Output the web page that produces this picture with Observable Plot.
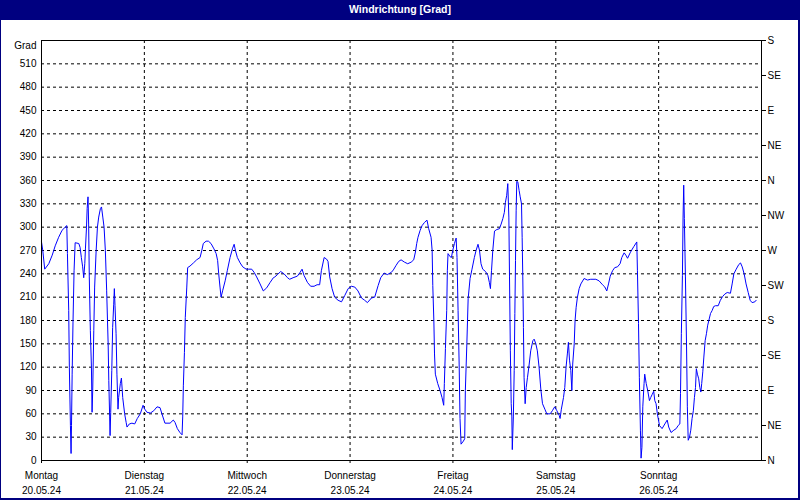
<!DOCTYPE html>
<html>
<head>
<meta charset="utf-8">
<script src="https://cdn.jsdelivr.net/npm/d3@7"></script>
<script src="https://cdn.jsdelivr.net/npm/@observablehq/plot@0.6"></script>
<style>
  html, body { margin: 0; padding: 0; background: #fff; }
  #wrap { position: relative; width: 800px; height: 500px; background: #fff; overflow: hidden; }
  #title { height: 20px; background: #000080; color: #fff; font: bold 10.5px "Liberation Sans", Arial, sans-serif; text-align: center; line-height: 19px; }
  #border { position: absolute; left: 0; top: 0; right: 0; bottom: 0; border-left: 1px solid #000080; border-right: 2px solid #000080; border-bottom: 2px solid #000080; pointer-events: none; }
  #chart svg { display: block; }
</style>
</head>
<body>
<div id="wrap">
  <div id="title">Windrichtung [Grad]</div>
  <div id="chart"></div>
  <div id="border"></div>
</div>
<script>
// Time axis: hours since Monday 20.05.24 00:00
const startDay = "2024-05-20";
const dayNames = ["Montag", "Dienstag", "Mittwoch", "Donnerstag", "Freitag", "Samstag", "Sonntag"];
const dayDates = ["20.05.24", "21.05.24", "22.05.24", "23.05.24", "24.05.24", "25.05.24", "26.05.24"];
const gradTicks = [0, 30, 60, 90, 120, 150, 180, 210, 240, 270, 300, 330, 360, 390, 420, 450, 480, 510];
const compassValues = [0, 45, 90, 135, 180, 225, 270, 315, 360, 405, 450, 495, 540];
const compassLabels = ["N", "NE", "E", "SE", "S", "SW", "W", "NW", "N", "NE", "E", "SE", "S"];

// Measured series (hour offset, wind direction in degrees)
const hours = [
  0, 0.3, 0.75, 1.7, 2.5, 3.2, 4.0, 4.8, 5.9, 6.05, 6.35, 6.5, 6.75, 6.9, 7.0, 7.15, 7.35, 7.6, 7.85, 8.7,
  9.0, 9.3, 9.6, 9.85, 10.1, 10.25, 10.5, 10.65, 10.85, 11.0, 11.15, 11.4, 11.65, 11.8, 11.95, 12.2, 12.4, 12.75, 13.05, 13.35,
  13.75, 14.0, 14.3, 14.6, 14.9, 15.2, 15.55, 15.7, 15.9, 16.0, 16.15, 16.4, 16.6, 16.85, 17.0, 17.15, 17.4, 17.6, 17.85, 18.0,
  18.4, 18.65, 18.95, 19.4, 19.75, 19.95, 20.5, 21.1, 21.75, 22.35, 23.05, 23.7, 24.1, 24.6, 25.4, 26.2, 26.95,
  27.65, 28.1, 28.8, 30.0, 30.75, 31.15, 31.7, 32.3, 32.8, 32.95, 33.1, 33.35, 33.55, 33.9, 34.1, 34.65, 35.45, 36.2, 37.0, 37.4,
  37.75, 38.4, 38.95, 39.55, 40.25, 40.75, 41.1, 41.35, 41.65, 41.9, 42.3, 42.85, 43.35, 44.0, 44.6, 44.95, 45.25, 45.7, 46.35, 46.95,
  47.75, 48.25, 49.05, 49.6, 50.2, 51.0, 51.75, 52.55, 53.35, 54.1, 54.45,
  55.05, 55.8, 56.6, 57.4, 57.9, 58.7, 59.7, 60.35, 60.8, 61.25, 62.05, 62.8, 63.6, 64.3, 64.9, 65.3, 65.95, 66.5, 66.85, 67.25,
  67.8, 68.4, 69.2, 70.0, 70.75, 71.55, 72.3, 73.1, 73.85, 74.65, 75.4, 76.05, 77.0, 77.75, 78.55, 79.15, 79.95, 80.7, 81.65, 82.1,
  82.75, 83.35, 83.9, 84.7, 85.45, 86.25, 86.85, 87.25, 87.55, 87.85, 88.35, 88.8, 89.35, 89.95, 90.35, 90.9, 91.15, 91.3, 91.55, 91.7,
  91.9, 92.45, 93.0, 93.45, 93.85, 94.0, 94.25, 94.55, 94.7, 94.85, 95.35, 95.65, 95.95, 96.35, 96.75, 96.95, 97.2, 97.45, 97.65, 97.9,
  98.45, 98.75, 98.9, 99.25, 99.55, 100.0, 100.45, 101.0, 101.4, 101.85, 102.2, 102.55, 102.95, 103.6, 104.15, 104.5, 104.75, 105.0, 105.3, 105.7,
  106.25, 106.85, 107.25, 107.65, 108.0, 108.25, 108.55, 108.8, 109.05, 109.2, 109.4, 109.6, 109.75, 109.85,
  110.1, 110.3, 110.45, 110.6, 110.75, 110.9, 111.15, 111.45, 111.7, 112.0, 112.15, 112.3, 112.45, 112.6, 112.85, 113.1, 113.4, 113.8, 114.15, 114.65,
  114.95, 115.35, 115.7, 116.1, 116.5, 116.9, 117.45, 117.9, 118.7, 119.2, 119.75, 120.25, 120.8, 121.0, 121.3, 121.8, 122.1, 122.4, 122.7, 122.95,
  123.2, 123.5, 123.75, 123.95, 124.3, 124.5, 124.75, 125.05, 125.45, 125.85, 126.6, 127.4, 128.15, 129.35, 130.1, 130.9, 131.45, 131.9, 132.3, 132.7,
  133.25, 133.75, 134.4, 135.0, 135.4, 135.95, 136.35, 136.75, 137.35, 137.65, 138.2, 138.9,
  139.05, 139.3, 139.5, 139.75, 139.9, 140.1, 140.3, 140.6, 140.75, 141.1, 141.45, 141.85, 142.15, 142.5, 142.85, 143.1, 143.4, 143.7, 143.9, 144.2,
  144.8, 145.45, 146.0, 146.35, 146.9, 147.55, 148.1, 148.55, 148.95, 149.1, 149.3, 149.55, 149.7, 149.85, 150.0, 150.25, 150.5, 150.7, 150.9, 151.2,
  151.5, 151.8, 152.1, 152.35, 152.6, 152.8, 153.05, 153.35, 153.6, 153.85, 154.05, 154.3, 154.55, 154.85, 155.15, 155.45, 155.8, 156.1, 156.5, 156.85,
  157.25, 157.9, 158.4, 158.95, 159.45, 160.0, 160.75, 161.15, 161.55, 162.1, 162.7, 163.1, 163.5, 163.95, 164.4, 164.9, 165.35, 165.8, 166.45, 166.75
];
const degrees = [
  281, 270, 246, 253, 264, 276, 287, 296, 302, 266, 193, 120, 45, 9, 45, 111, 178, 244, 280, 279,
  274, 261, 249, 235, 253, 272, 300, 324, 339, 304, 236, 167, 120, 62, 90, 167, 223, 270, 300, 313,
  324, 326, 313, 300, 270, 219, 150, 103, 56, 32, 62, 116, 171, 201, 221, 199, 163, 111, 66, 81,
  99, 106, 81, 60, 49, 43, 47, 48, 47, 54, 60, 71, 66, 62, 61, 64, 69,
  68, 60, 48, 48, 52, 49, 41, 36, 33, 56, 96, 139, 184, 223, 248, 250, 254, 258, 261, 270,
  279, 282, 282, 279, 272, 266, 257, 240, 223, 210, 219, 231, 244, 261, 273, 278, 270, 261, 254, 249,
  246, 246, 246, 242, 236, 227, 218, 222, 229, 235, 236,
  239, 243, 240, 235, 233, 235, 237, 242, 246, 238, 229, 224, 224, 226, 226, 244, 261, 259, 256, 236,
  221, 210, 206, 204, 212, 221, 224, 223, 218, 209, 206, 203, 209, 210, 225, 235, 241, 239, 242, 245,
  251, 256, 258, 255, 253, 255, 258, 268, 279, 287, 296, 302, 306, 309, 298, 287, 270, 225, 180, 137,
  111, 99, 90, 81, 71, 99, 144, 193, 244, 266, 262, 261, 270, 279, 286, 261, 193, 124, 54, 21,
  25, 28, 90, 150, 208, 234, 246, 261, 270, 278, 270, 253, 246, 243, 238, 229, 221, 244, 270, 295,
  297, 298, 304, 311, 319, 332, 341, 356, 313, 236, 141, 73, 56, 14,
  56, 116, 189, 257, 321, 359, 358, 347, 339, 330, 287, 236, 171, 107, 73, 94, 107, 124, 141, 154,
  156, 150, 141, 120, 92, 73, 66, 60, 60, 64, 69, 64, 58, 54, 66, 81, 94, 120, 137, 152,
  129, 116, 90, 124, 150, 180, 197, 210, 221, 227, 234, 232, 233, 233, 231, 226, 223, 218, 227, 237,
  244, 248, 249, 253, 261, 267, 264, 260, 267, 270, 275, 281,
  244, 176, 107, 39, 3, 17, 69, 99, 111, 99, 90, 77, 81, 85, 89, 77, 73, 60, 54, 45,
  41, 47, 52, 43, 36, 39, 41, 45, 47, 86, 163, 238, 313, 354, 311, 236, 150, 69, 26, 30,
  39, 54, 64, 81, 94, 118, 111, 105, 94, 88, 99, 114, 133, 154, 163, 174, 182, 189, 193, 198,
  199, 199, 206, 211, 214, 216, 215, 227, 240, 246, 252, 254, 249, 240, 227, 216, 206, 203, 204, 206
];

const t0 = new Date(startDay + "T00:00:00Z").getTime();
const toDate = h => new Date(t0 + h * 3600e3);
const series = hours.map((h, i) => ({time: toDate(h), deg: degrees[i]}));
const dayTicks = dayNames.map((_, i) => toDate(24 * i));
const dayLabel = new Map(dayTicks.map((d, i) => [d.getTime(), dayNames[i] + "\n" + dayDates[i]]));
const compassLabel = new Map(compassValues.map((v, i) => [v, compassLabels[i]]));

const font = '"Liberation Sans", Arial, sans-serif';
const grid = {stroke: "black", strokeOpacity: 1, strokeWidth: 1, strokeDasharray: "3,3"};

const chart = Plot.plot({
  width: 800,
  height: 480,
  marginTop: 20,
  marginBottom: 40,
  marginLeft: 41,
  marginRight: 39,
  style: {fontFamily: font, fontSize: "10px", background: "white", color: "black", overflow: "visible"},
  x: {type: "utc", domain: [toDate(0), toDate(168)]},
  y: {domain: [0, 540]},
  marks: [
    Plot.gridY(gradTicks.filter(v => v > 0), grid),
    Plot.gridX(dayTicks.slice(1), grid),
    Plot.line(series, {x: "time", y: "deg", stroke: "#0000ff", strokeWidth: 1}),
    Plot.frame({stroke: "black", strokeWidth: 1}),
    Plot.axisY(gradTicks, {anchor: "left", tickSize: 0, tickPadding: 5, label: null, fill: "black"}),
    Plot.axisY([540], {anchor: "left", tickSize: 0, tickPadding: 5, label: null, tickFormat: () => "Grad", dy: 5, fill: "black"}),
    Plot.axisY(compassValues, {anchor: "right", tickSize: 4, tickPadding: 2, label: null, tickFormat: v => compassLabel.get(v), stroke: "black", fill: "black"}),
    Plot.axisX(dayTicks, {anchor: "bottom", tickSize: 3, tickPadding: 5, label: null, lineHeight: 1.5, tickFormat: d => dayLabel.get(d.getTime()), stroke: "black", fill: "black"})
  ]
});
document.getElementById("chart").appendChild(chart);
</script>
</body>
</html>
